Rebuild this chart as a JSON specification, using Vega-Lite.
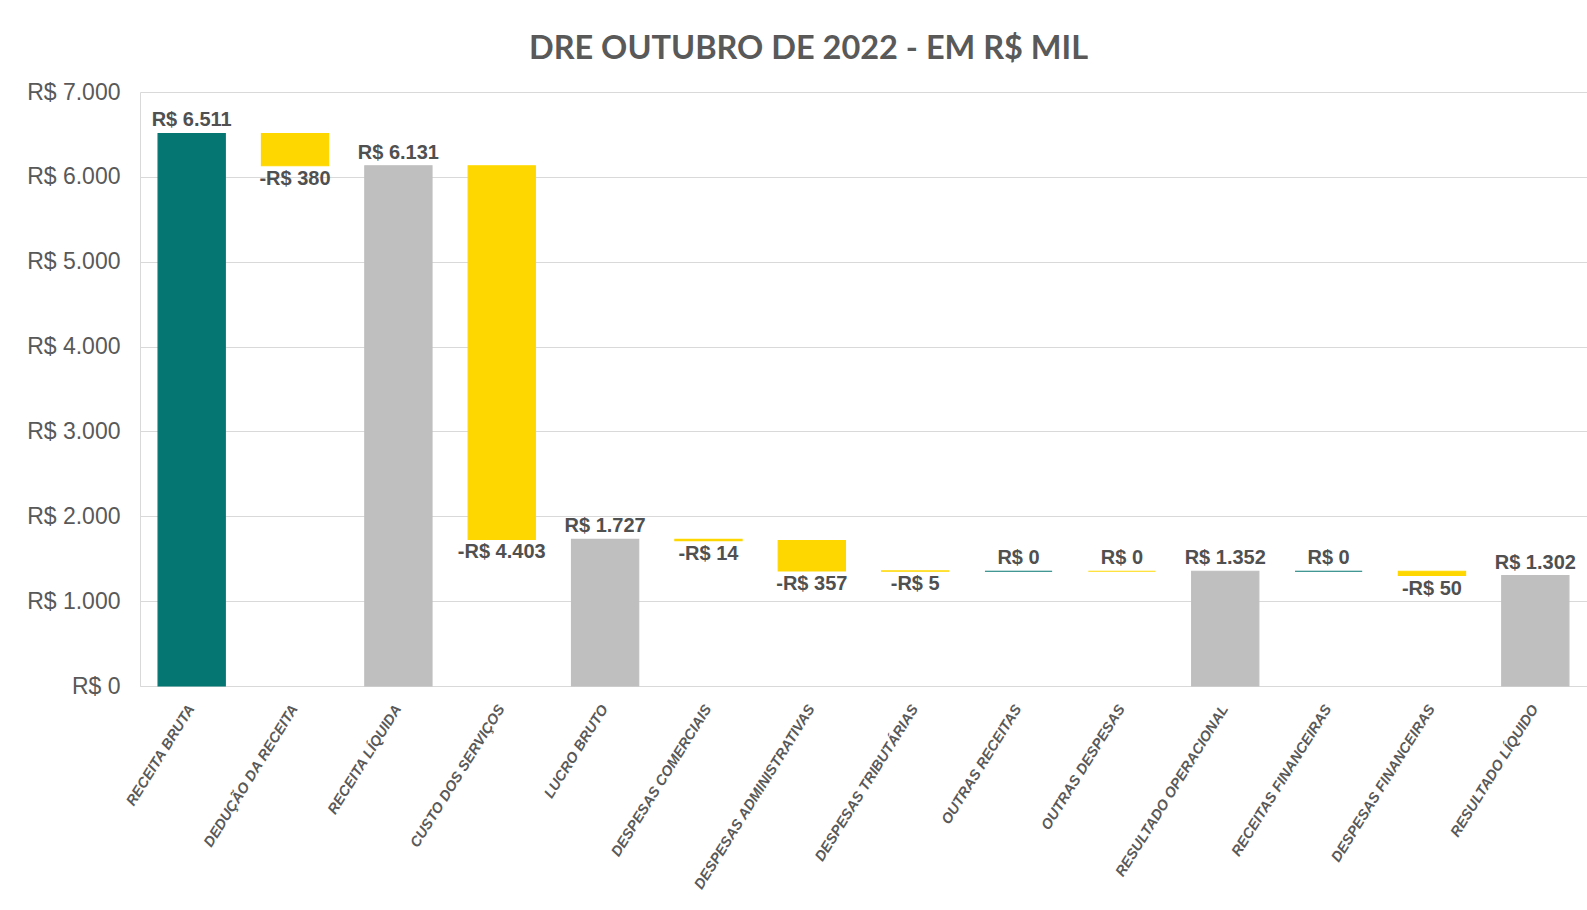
{
  "$schema": "https://vega.github.io/schema/vega-lite/v6.json",
  "width": 1447,
  "height": 594,
  "autosize": {"type": "none"},
  "padding": {"left": 140, "top": 92, "right": 0, "bottom": 224},
  "background": "white",
  "config": {"view": {"stroke": null}},
  "title": {
    "text": "DRE OUTUBRO DE 2022 - EM R$ MIL",
    "font": "Lato",
    "fontSize": 32.5,
    "fontWeight": "bold",
    "color": "#595959",
    "anchor": "middle",
    "frame": "group",
    "dx": -55,
    "offset": 16
  },
  "data": {
    "values": [
      {"item": "RECEITA BRUTA", "low": 0, "high": 6511, "kind": "rec", "label": "R$ 6.511"},
      {"item": "DEDUÇÃO DA RECEITA", "low": 6131, "high": 6511, "kind": "neg", "label": "-R$ 380"},
      {"item": "RECEITA LÍQUIDA", "low": 0, "high": 6131, "kind": "tot", "label": "R$ 6.131"},
      {"item": "CUSTO DOS SERVIÇOS", "low": 1728, "high": 6131, "kind": "neg", "label": "-R$ 4.403"},
      {"item": "LUCRO BRUTO", "low": 0, "high": 1727, "kind": "tot", "label": "R$ 1.727"},
      {"item": "DESPESAS COMERCIAIS", "low": 1713, "high": 1727, "kind": "neg", "label": "-R$ 14"},
      {"item": "DESPESAS ADMINISTRATIVAS", "low": 1356, "high": 1713, "kind": "neg", "label": "-R$ 357"},
      {"item": "DESPESAS TRIBUTÁRIAS", "low": 1352, "high": 1356, "kind": "neg", "label": "-R$ 5"},
      {"item": "OUTRAS RECEITAS", "low": 1352, "high": 1352, "kind": "rec0", "label": "R$ 0"},
      {"item": "OUTRAS DESPESAS", "low": 1352, "high": 1352, "kind": "neg0", "label": "R$ 0"},
      {"item": "RESULTADO OPERACIONAL", "low": 0, "high": 1352, "kind": "tot", "label": "R$ 1.352"},
      {"item": "RECEITAS FINANCEIRAS", "low": 1352, "high": 1352, "kind": "rec0", "label": "R$ 0"},
      {"item": "DESPESAS FINANCEIRAS", "low": 1302, "high": 1352, "kind": "neg", "label": "-R$ 50"},
      {"item": "RESULTADO LÍQUIDO", "low": 0, "high": 1302, "kind": "tot", "label": "R$ 1.302"}
    ]
  },
  "encoding": {
    "x": {
      "field": "item",
      "type": "nominal",
      "sort": null,
      "scale": {"paddingInner": 0.35, "paddingOuter": 0.175},
      "axis": {
        "title": null,
        "ticks": false,
        "domainColor": "#d9d9d9",
        "labelAngle": -58,
        "labelFont": "Liberation Sans",
        "labelFontSize": 14.5,
        "labelFontStyle": "italic",
        "labelFontWeight": "bold",
        "labelColor": "#595959",
        "labelPadding": 20,
        "labelLimit": 300
      }
    }
  },
  "layer": [
    {
      "mark": {"type": "bar", "strokeWidth": 1.2},
      "encoding": {
        "y": {
          "field": "low",
          "type": "quantitative",
          "scale": {"domain": [0, 7000], "nice": false},
          "axis": {
            "title": null,
            "values": [0, 1000, 2000, 3000, 4000, 5000, 6000, 7000],
            "labelExpr": "'R$ ' + replace(format(datum.value, ','), ',', '.')",
            "ticks": false,
            "domainColor": "#d9d9d9",
            "gridColor": "#d9d9d9",
            "labelFont": "Liberation Sans",
            "labelFontSize": 23,
            "labelColor": "#595959",
            "labelPadding": 20
          }
        },
        "y2": {"field": "high"},
        "color": {
          "field": "kind",
          "type": "nominal",
          "scale": {"domain": ["rec", "neg", "tot", "rec0", "neg0"], "range": ["#057672", "#FFD700", "#BFBFBF", "#057672", "#FFD700"]},
          "legend": null
        },
        "stroke": {
          "field": "kind",
          "type": "nominal",
          "scale": {"domain": ["rec", "neg", "tot", "rec0", "neg0"], "range": ["#057672", "#FFD700", "#BFBFBF", "#057672", "#FFD700"]},
          "legend": null
        }
      }
    },
    {
      "transform": [{"filter": "datum.kind != 'neg'"}],
      "mark": {"type": "text", "baseline": "bottom", "dy": -3, "font": "Liberation Sans", "fontSize": 20, "fontWeight": "bold", "color": "#505050"},
      "encoding": {
        "y": {"field": "high", "type": "quantitative"},
        "text": {"field": "label"}
      }
    },
    {
      "transform": [{"filter": "datum.kind == 'neg'"}],
      "mark": {"type": "text", "baseline": "top", "dy": 3, "font": "Liberation Sans", "fontSize": 20, "fontWeight": "bold", "color": "#505050"},
      "encoding": {
        "y": {"field": "low", "type": "quantitative"},
        "text": {"field": "label"}
      }
    }
  ]
}
